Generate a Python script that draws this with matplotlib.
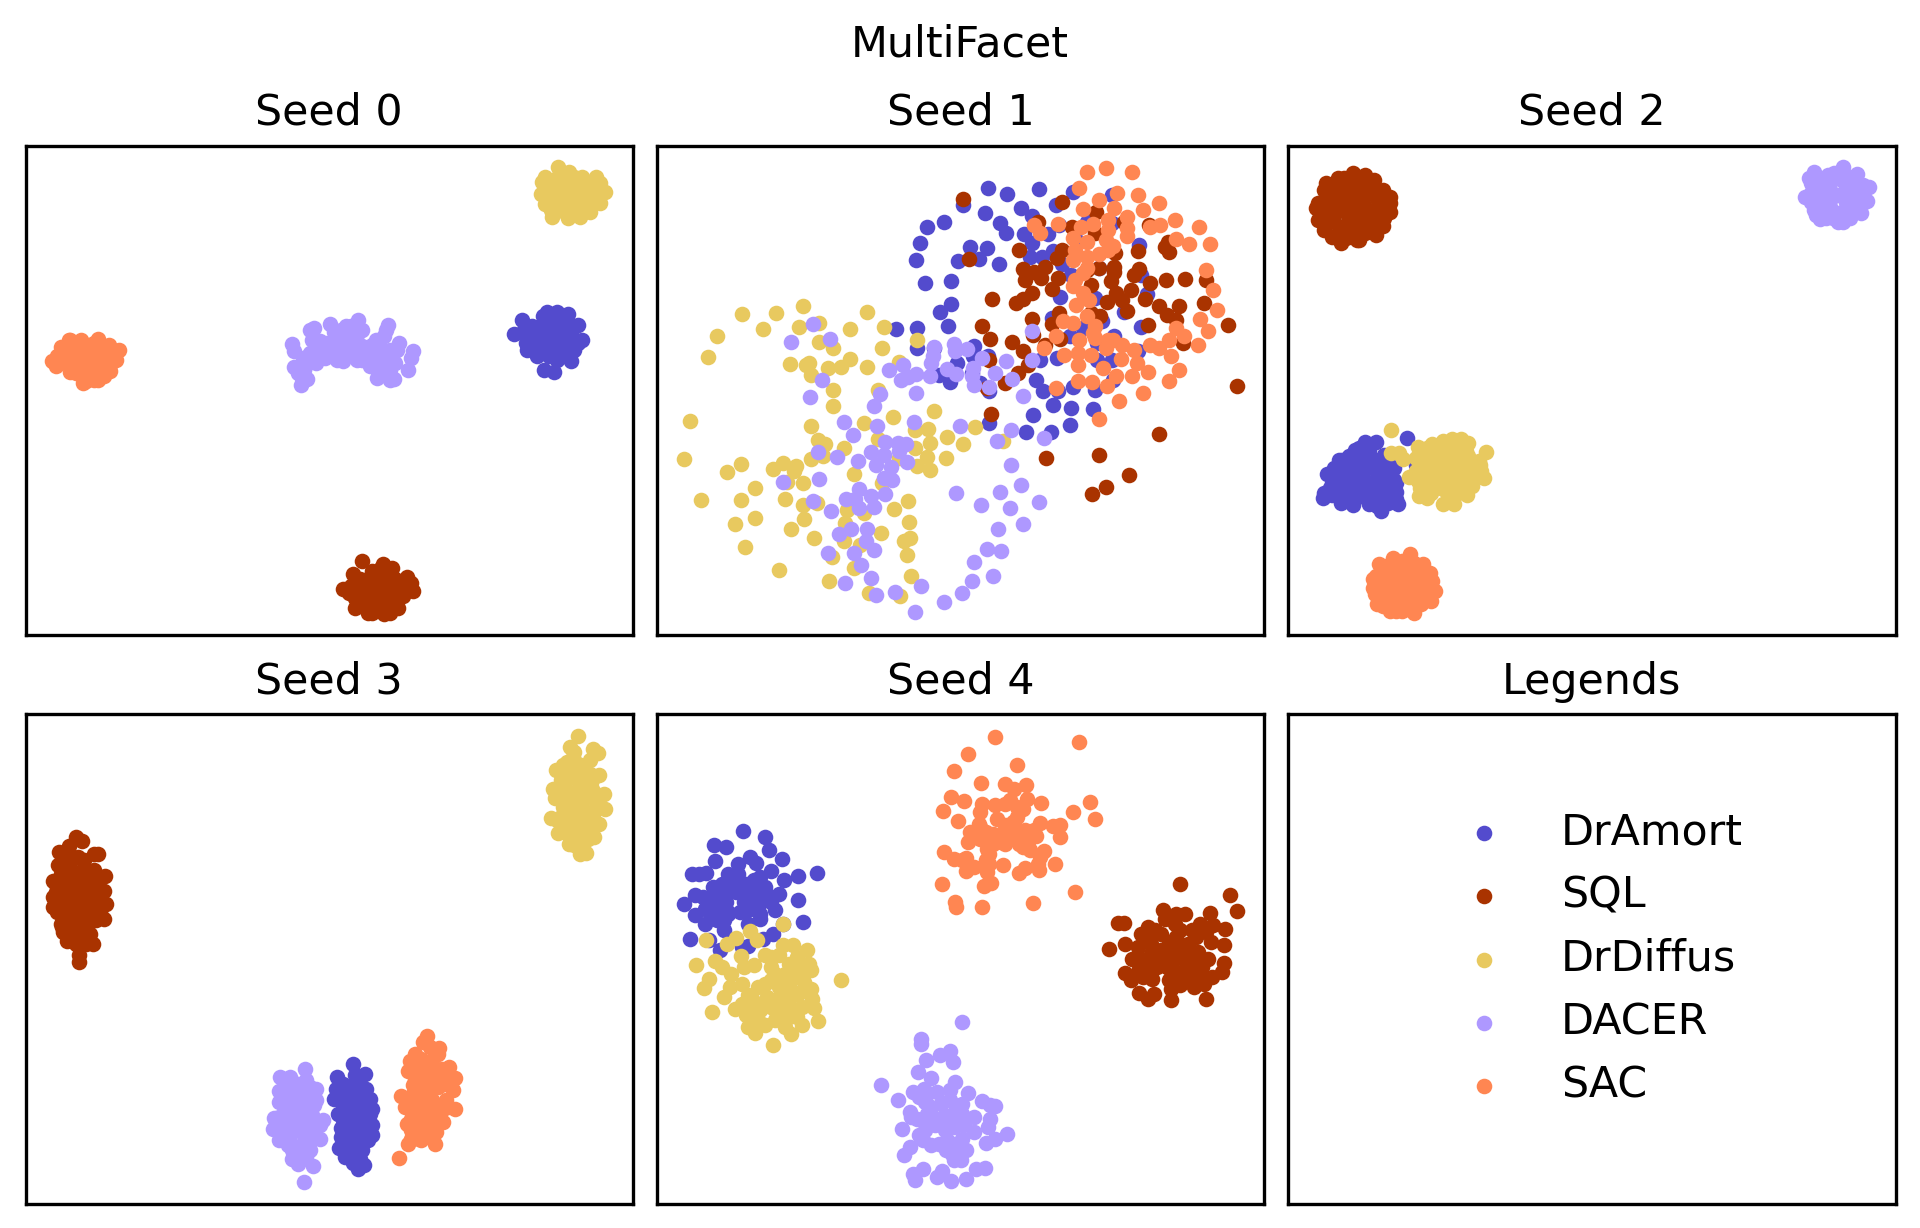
import numpy as np
import matplotlib
matplotlib.use("Agg")
import matplotlib.pyplot as plt

metodos = ["DrAmort", "SQL", "DrDiffus", "DACER", "SAC"]
cores = ["#534bcd", "#a93300", "#e8c95f", "#ae98ff", "#ff8652"]

# pontos, em unidades arbitrarias (y cresce para baixo)
seed0_dramort = [(1270,582),(1289,542),(1354,518),(1380,518),(1408,524),(1434,556),(1445,600),(1425,630),(1415,665),(1346,692),(1373,697),(1330,650),(1303,632),(1380,660),(1315,560),(1350,550),(1385,545),(1415,560),(1300,590),(1330,590),(1360,585),(1390,585),(1420,595),(1320,620),(1350,620),(1380,620),(1410,625),(1360,650),(1395,650),(1295,570),
    (1333,570),(1368,567),(1403,570),(1315,605),(1345,605),(1375,603),(1405,610),(1435,610),(1335,635),(1365,635),(1395,635),(1375,535),(1400,540),(1345,530),(1300,610)]
seed0_sql = [(880,1266),(932,1275),(957,1285),(995,1312),(1005,1330),(1010,1355),(855,1305),(830,1348),(860,1405),(895,1420),(952,1420),(972,1405),(985,1370),(905,1295),(935,1305),(965,1320),(875,1320),(850,1340),(880,1345),(910,1335),(940,1340),(970,1345),(860,1375),(890,1380),(920,1375),(950,1375),(920,1410),(880,1400),(945,1400),(990,1335),
    (865,1325),(895,1320),(925,1320),(955,1325),(985,1350),(865,1358),(895,1360),(925,1355),(955,1358),(845,1360),(875,1385),(905,1395),(935,1395),(965,1385),(905,1420),(935,1425),(890,1355),(925,1290),(950,1300)]
seed0_drdiffus = [(1383,82),(1412,95),(1350,110),(1342,125),(1340,163),(1350,192),(1368,230),(1408,235),(1440,232),(1465,215),(1490,190),(1503,157),(1480,112),(1490,130),(1445,110),(1380,115),(1410,125),(1370,145),(1405,155),(1440,140),(1470,150),(1375,185),(1410,190),(1445,180),(1475,180),(1400,215),(1430,210),(1350,160),(1460,125),(1385,210),
    (1395,110),(1425,110),(1365,125),(1395,140),(1425,145),(1455,160),(1485,165),(1355,145),(1385,160),(1425,170),(1355,175),(1390,175),(1460,195),(1385,195),(1425,195),(1365,210),(1415,215),(1445,215),(1455,145),(1480,140)]
seed0_dacer = [(700,612),(705,635),(735,652),(704,682),(745,570),(755,565),(715,700),(738,718),(722,737),(765,620),(790,640),(798,552),(808,578),(838,560),(868,542),(880,570),(815,600),(850,605),(815,640),(850,625),(815,662),(866,660),(895,640),(900,680),(920,615),(945,556),(935,590),(928,625),(940,650),(918,715),(950,720),(962,718),(950,690),(965,670),(975,610),(970,630),(997,692),(1010,635),(1005,655),(745,640),(730,690),(870,580),(905,660),(760,670),(790,610),(835,590),(925,670),
    (825,570),(850,560),(855,580),(800,620),(830,620),(865,610),(780,625),(760,645),(785,655),(830,650),(880,620),(905,640),(920,645),(950,630),(905,615),(880,660),(935,690),(920,690),(725,670),(740,670),(915,600),(830,665),(940,570),(770,605),(750,600),(725,715)]
seed0_sac = [(82,663),(93,680),(105,622),(125,602),(158,600),(202,597),(228,615),(256,632),(247,662),(232,695),(202,720),(163,730),(128,697),(175,615),(140,625),(110,650),(135,655),(165,650),(195,640),(225,640),(150,680),(180,680),(210,670),(235,670),(175,705),(205,695),(120,670),(130,600),(190,610),
    (120,625),(150,615),(205,615),(95,650),(125,640),(150,640),(180,630),(210,625),(240,650),(105,665),(135,675),(165,665),(195,660),(225,660),(145,700),(160,700),(195,680),(225,690),(170,725),(190,720),(215,710)]

seed1_dramort = [(857,145),(905,163),(988,148),(792,196),(848,220),(941,205),(970,228),(1030,195),(1075,157),(1175,165),(700,262),(744,247),(887,250),(903,280),(948,283),(1010,283),(1038,255),(682,310),(810,321),(855,325),(672,361),(779,364),(832,358),(885,373),(970,308),(965,350),(995,350),(1022,332),(1045,372),(1080,295),(1110,245),(1175,250),(1245,315),(1070,405),(1140,385),(1250,405),(694,430),(761,424),(1042,472),(1130,475),(1265,462),(761,492),(733,516),(1020,535),(1205,518),(1150,545),(754,558),(621,568),(675,564),(1250,562),(1068,590),(1100,565),(1180,590),(675,625),(718,625),(820,620),(1135,610),(1240,635),(777,670),(818,650),(856,650),(990,660),(1033,655),(1137,662),(1175,660),(730,705),(815,700),(760,728),(835,730),(980,720),(860,755),(997,753),(1035,755),(1075,742),(1130,752),(1178,722),(1023,795),(1070,805),(1127,807),(972,827),(860,850),(955,877),(1017,878),(1068,855)]
seed1_sql = [(792,178),(1045,187),(1133,217),(985,245),(1072,262),(1130,278),(1270,255),(1205,245),(808,358),(937,331),(1045,330),(1033,355),(1242,333),(1310,320),(1322,335),(1318,305),(1182,340),(1180,380),(947,387),(975,395),(1003,380),(993,415),(950,422),(1035,415),(1140,385),(1110,390),(1245,387),(1232,405),(1180,395),(1313,421),(1361,417),(1415,421),(1273,430),(1171,423),(1120,435),(1020,447),(1222,450),(970,460),(947,477),(929,490),(867,478),(1185,460),(1258,477),(1162,488),(1200,482),(1212,515),(1294,500),(1346,498),(1410,490),(1315,525),(1338,540),(1143,528),(1038,520),(1020,552),(970,537),(842,558),(1268,557),(1471,556),(1120,520),(862,598),(918,606),(973,585),(1042,597),(1003,615),(1356,610),(947,635),(860,660),(958,675),(933,700),(900,730),(855,745),(1495,739),(865,823),(1294,882),(1004,955),(1142,946),(1217,1006),(1160,1042),(1122,1063)]
seed1_drdiffus = [(225,523),(312,519),(381,499),(546,516),(422,549),(278,568),(371,562),(502,568),(590,562),(160,589),(423,607),(458,625),(584,625),(137,652),(675,601),(348,673),(398,670),(445,685),(480,683),(502,658),(546,682),(627,668),(403,706),(388,675),(458,751),(574,752),(458,799),(91,844),(613,832),(718,814),(402,860),(538,850),(668,870),(703,868),(824,862),(420,900),(437,912),(487,925),(575,897),(752,892),(792,913),(708,910),(895,905),(668,925),(75,958),(402,958),(432,948),(700,952),(749,955),(222,973),(330,970),(363,978),(304,989),(358,993),(186,997),(675,980),(707,991),(627,955),(513,1003),(340,1028),(381,1030),(258,1045),(585,1030),(222,1081),(335,1078),(119,1081),(418,1092),(381,1097),(651,1085),(615,1110),(495,1112),(537,1120),(384,1138),(258,1135),(207,1153),(653,1147),(490,1150),(351,1168),(582,1180),(410,1195),(487,1204),(657,1197),(640,1205),(234,1222),(527,1218),(649,1246),(457,1252),(320,1291),(513,1286),(659,1309),(449,1324),(550,1360),(630,1370)]
seed1_dacer = [(408,552),(451,598),(351,606),(717,622),(770,612),(772,634),(803,628),(968,574),(840,656),(903,663),(970,660),(602,691),(638,676),(715,650),(711,670),(650,712),(672,702),(633,721),(708,708),(750,688),(775,703),(817,685),(816,708),(875,700),(917,717),(430,721),(820,737),(860,742),(399,772),(579,764),(672,760),(947,768),(564,799),(487,847),(572,859),(667,847),(785,858),(916,871),(510,885),(1001,895),(880,905),(593,908),(625,910),(645,912),(421,937),(556,937),(627,933),(468,952),(523,964),(590,945),(648,967),(570,977),(607,983),(916,976),(423,1018),(330,1026),(590,1015),(610,1020),(942,1036),(524,1048),(775,1060),(888,1057),(592,1063),(555,1070),(491,1078),(515,1080),(988,1087),(407,1084),(525,1105),(565,1103),(839,1096),(914,1105),(453,1114),(947,1153),(505,1170),(546,1169),(883,1168),(473,1184),(543,1205),(565,1231),(854,1228),(890,1234),(446,1240),(513,1240),(821,1267),(531,1278),(556,1317),(870,1309),(814,1324),(489,1332),(684,1341),(618,1357),(790,1360),(569,1366),(744,1387),(669,1417)]
seed1_sac = [(1160,85),(1111,97),(1227,97),(1090,145),(1188,160),(1240,166),(1142,181),(1294,190),(1101,208),(1180,203),(1255,211),(1214,232),(1335,241),(975,255),(1036,253),(1127,252),(1163,240),(1096,260),(1214,265),(1272,262),(1297,256),(1399,262),(990,280),(1075,293),(1214,288),(1163,270),(1340,297),(1372,313),(1425,313),(1110,305),(1178,318),(1160,300),(1080,330),(1140,342),(1075,360),(1110,350),(1165,330),(1415,390),(1110,385),(1080,420),(1100,400),(1075,440),(1433,451),(1100,460),(1115,480),(1081,497),(1443,511),(1110,530),(1050,543),(1075,550),(1400,538),(1130,558),(1338,564),(1422,574),(1125,580),(1360,590),(1030,590),(1090,600),(1130,595),(1165,600),(1178,600),(1000,625),(1322,600),(1272,615),(1295,625),(1396,616),(1200,615),(1160,625),(1230,630),(1052,646),(1088,640),(1120,645),(1325,650),(1198,658),(1088,675),(1238,670),(1346,690),(1152,685),(1268,697),(1185,708),(1225,710),(1086,725),(1124,727),(1320,725),(1030,745),(1162,740),(1255,760),(1192,785),(1142,838)]

seed2_dramort = [(312,895),(205,908),(232,908),(178,930),(138,960),(125,985),(108,1002),(120,1030),(98,1077),(143,1090),(173,1097),(215,1095),(245,1115),(290,1093),(285,1058),(280,985),(255,945),(335,975),(195,960),(230,960),(165,975),(200,1000),(235,995),(265,1005),(150,1015),(180,1030),(215,1030),(250,1035),(285,1030),(130,1055),(165,1060),(200,1065),(235,1065),(265,1070),(120,1065),(280,1020),
    (190,925),(215,930),(165,950),(145,985),(180,950),(215,945),(245,975),(265,970),(185,985),(215,975),(130,1010),(165,1000),(235,1015),(200,1020),(165,1035),(145,1040),(115,1045),(180,1050),(215,1050),(250,1050),(275,1045),(145,1075),(180,1080),(215,1080),(250,1085),(100,1060),(265,1090),(235,1100),(285,1080),(145,960)]
seed2_sql = [(175,100),(205,105),(135,115),(228,120),(100,150),(250,150),(268,170),(270,190),(268,215),(80,205),(85,240),(100,270),(143,310),(185,300),(232,285),(250,258),(130,140),(165,130),(200,140),(130,175),(165,170),(200,175),(235,175),(110,205),(145,210),(180,210),(215,210),(245,215),(125,245),(160,245),(195,245),(225,250),(140,280),(170,280),(205,280),(115,175),(105,130),
    (150,115),(185,120),(210,125),(115,150),(150,150),(185,155),(220,155),(240,190),(95,185),(130,190),(165,190),(200,190),(100,220),(125,225),(160,225),(195,225),(230,230),(255,235),(105,250),(140,265),(175,265),(210,265),(120,290),(155,295),(190,300),(85,190),(225,140),(175,115)]
seed2_drdiffus = [(273,871),(272,940),(293,940),(302,958),(340,922),(378,912),(405,905),(428,898),(452,898),(470,910),(515,936),(497,965),(503,995),(510,1015),(480,1040),(468,1065),(433,1095),(405,1095),(365,1075),(343,1068),(318,1012),(350,940),(385,940),(420,930),(455,935),(350,975),(385,975),(420,970),(455,965),(485,985),(345,1010),(380,1010),(415,1005),(450,1005),(485,1015),(365,1040),(400,1045),(435,1045),(460,1040),(345,1045),(420,1075),
    (365,925),(400,925),(435,915),(465,935),(335,955),(365,955),(400,955),(435,950),(470,950),(500,975),(335,995),(365,995),(400,990),(435,985),(470,1000),(500,1005),(360,1025),(395,1025),(430,1025),(465,1025),(340,1025),(375,1060),(415,1060),(445,1060),(450,915)]
seed2_dacer = [(1433,82),(1468,102),(1358,97),(1395,105),(1500,142),(1495,182),(1480,218),(1433,245),(1374,238),(1336,170),(1358,210),(1408,235),(1350,130),(1390,135),(1430,120),(1465,135),(1380,170),(1420,165),(1460,170),(1365,195),(1400,200),(1440,205),(1470,195),(1410,100),(1350,160),(1450,235),
    (1370,115),(1405,120),(1445,110),(1485,135),(1370,150),(1400,150),(1440,145),(1480,165),(1350,185),(1400,180),(1440,185),(1480,195),(1380,215),(1420,220),(1460,215),(1390,235),(1420,245),(1365,225),(1455,150),(1345,115)]
seed2_sac = [(320,1245),(278,1255),(240,1275),(355,1275),(372,1300),(378,1325),(385,1355),(375,1385),(330,1420),(300,1415),(270,1415),(236,1395),(225,1345),(232,1310),(275,1295),(310,1290),(340,1300),(260,1330),(295,1330),(330,1335),(360,1340),(250,1365),(285,1365),(320,1370),(350,1375),(290,1395),(325,1395),(230,1330),(350,1395),
    (300,1265),(330,1270),(260,1280),(290,1310),(325,1315),(355,1320),(245,1315),(270,1345),(310,1350),(340,1355),(370,1360),(240,1375),(270,1390),(305,1390),(340,1385),(365,1365),(250,1400),(285,1415),(315,1410),(245,1345),(225,1320),(230,1365),(305,1270)]

seed3_dramort = [(857,1060),(887,1092),(815,1100),(860,1095),(812,1135),(890,1135),(808,1167),(900,1165),(905,1195),(818,1212),(895,1230),(825,1252),(898,1265),(820,1312),(880,1320),(855,1358),(883,1363),(868,1375),(850,1130),(850,1170),(860,1210),(860,1250),(860,1290),(825,1280),(895,1290),(855,1330),(875,1345),
    (830,1120),(870,1125),(835,1150),(880,1155),(830,1185),(875,1190),(845,1205),(890,1210),(840,1235),(880,1240),(845,1265),(880,1270),(840,1300),(875,1300),(895,1250),(840,1320),(860,1345),(905,1245),(830,1230),(905,1275),(895,1180),(825,1170),(870,1110),(835,1340),(865,1145),(870,1360),(900,1210)]
seed3_sql = [(143,380),(160,392),(100,424),(125,408),(200,430),(190,430),(98,465),(150,440),(218,497),(85,513),(92,545),(217,542),(222,580),(85,590),(215,625),(108,650),(120,692),(188,701),(153,735),(153,755),(180,670),(150,690),(130,470),(165,475),(190,480),(120,510),(155,510),(195,515),(110,550),(145,550),(185,550),(110,585),(150,590),(190,585),(115,620),(155,625),(195,630),(105,640),(165,655),(140,675),(120,655),
    (110,450),(130,445),(165,450),(105,490),(135,490),(175,495),(205,500),(95,530),(130,530),(165,530),(200,530),(95,565),(130,570),(165,570),(205,565),(95,605),(130,605),(170,605),(205,605),(135,640),(175,640),(145,700),(125,690),(170,700),(110,665),(180,620),(85,560)]
seed3_drdiffus = [(1435,78),(1413,110),(1425,125),(1473,116),(1485,127),(1465,150),(1405,155),(1378,180),(1435,160),(1487,193),(1370,235),(1375,263),(1500,252),(1503,295),(1365,322),(1488,340),(1383,368),(1475,380),(1410,400),(1440,430),(1455,428),(1420,195),(1455,200),(1400,230),(1440,230),(1470,235),(1410,270),(1445,270),(1480,275),(1395,310),(1430,305),(1465,310),(1420,345),(1455,345),(1410,375),(1445,375),(1425,405),(1450,395),
    (1400,175),(1440,180),(1465,190),(1390,210),(1435,210),(1470,210),(1385,250),(1420,250),(1460,250),(1485,255),(1395,290),(1445,290),(1480,295),(1380,330),(1445,325),(1475,330),(1400,355),(1440,360),(1465,360),(1430,390),(1460,385),(1420,140),(1395,165),(1450,170),(1410,330)]
seed3_dacer = [(732,1076),(668,1100),(695,1100),(735,1110),(760,1135),(665,1142),(665,1175),(755,1185),(652,1222),(778,1230),(650,1256),(770,1245),(667,1290),(770,1285),(700,1320),(745,1320),(702,1347),(715,1360),(752,1366),(729,1414),(700,1135),(730,1150),(695,1175),(725,1190),(685,1215),(720,1225),(750,1215),(680,1260),(715,1260),(745,1260),(695,1295),(730,1295),(720,1335),
    (680,1115),(715,1120),(745,1130),(680,1155),(715,1165),(745,1165),(680,1195),(705,1205),(745,1200),(665,1220),(700,1240),(735,1240),(760,1240),(665,1255),(695,1275),(730,1275),(755,1280),(680,1285),(710,1310),(735,1340),(720,1350),(690,1305),(760,1170),(700,1345)]
seed3_sac = [(1047,978),(1035,995),(1078,1012),(1075,1030),(1015,1030),(1002,1052),(998,1082),(1103,1070),(1117,1102),(1112,1140),(1010,1125),(980,1157),(1117,1195),(990,1190),(1088,1235),(995,1240),(1070,1265),(998,1300),(1025,1285),(1066,1302),(973,1342),(1040,1060),(1040,1100),(1070,1090),(1040,1140),(1075,1130),(1020,1170),(1060,1170),(1095,1170),(1020,1210),(1055,1210),(1085,1200),(1020,1250),(1050,1250),(1010,1270),(1045,1275),
    (1055,1010),(1030,1045),(1060,1050),(1015,1080),(1055,1080),(1085,1075),(1015,1110),(1055,1115),(1095,1110),(1010,1150),(1050,1150),(1000,1175),(1040,1190),(1075,1185),(1010,1195),(1035,1230),(1070,1225),(1005,1225),(1005,1260),(1035,1265),(1065,1240),(1005,1285),(1090,1120),(1030,1290),(1100,1190)]

seed4_dramort = [(228,363),(284,380),(153,403),(184,411),(295,419),(156,453),(327,445),(245,440),(262,458),(215,462),(97,490),(115,492),(133,488),(190,490),(300,483),(270,500),(418,487),(369,498),(333,510),(105,553),(150,530),(75,580),(200,510),(235,520),(285,530),(320,550),(370,570),(125,560),(170,560),(210,545),(250,555),(290,555),(130,595),(165,590),(220,605),(265,590),(310,600),(105,615),(130,640),(180,630),(270,625),(382,636),(330,640),(180,660),(240,640),(91,687),(140,690),(305,670),(280,685),(168,720),(225,710),(240,708),
    (190,535),(230,540),(265,545),(145,570),(185,575),(230,575),(275,570),(300,575),(145,610),(190,610),(240,600),(175,520),(215,490),(255,510),(190,605),(270,610),(160,630),(210,530)]
seed4_sql = [(1348,520),(1477,553),(1495,601),(1305,600),(1310,625),(1363,610),(1425,607),(1190,637),(1205,637),(1433,645),(1465,655),(1268,650),(1335,640),(1400,640),(1207,700),(1168,717),(1250,670),(1300,670),(1350,660),(1390,680),(1428,695),(1462,703),(1240,710),(1300,720),(1350,710),(1395,725),(1225,745),(1265,750),(1330,750),(1370,745),(1420,745),(1462,757),(1207,787),(1245,775),(1290,770),(1340,785),(1385,790),(1458,785),(1222,810),(1278,805),(1325,800),(1365,810),(1430,800),(1245,848),(1282,850),(1268,865),(1325,835),(1385,830),(1410,820),(1325,868),(1415,865),(1350,825),
    (1275,700),(1320,695),(1370,700),(1330,720),(1275,730),(1245,745),(1300,745),(1345,735),(1395,750),(1270,775),(1315,770),(1365,770),(1405,770),(1320,810),(1350,790),(1260,690),(1340,680),(1375,720),(1240,750),(1285,660),(1340,610),(1255,800),(1410,800),(1380,660),(1415,665)]
seed4_drdiffus = [(330,640),(132,690),(245,662),(263,688),(210,684),(187,700),(106,763),(155,752),(175,770),(196,790),(140,805),(127,832),(222,738),(255,765),(230,770),(285,735),(330,705),(355,705),(392,720),(365,740),(398,760),(402,780),(480,808),(300,770),(360,780),(225,820),(195,830),(300,810),(340,810),(385,815),(402,835),(178,860),(250,865),(290,860),(330,850),(370,850),(405,865),(410,892),(148,905),(208,895),(250,900),(300,890),(350,895),(380,890),(240,950),(258,968),(285,945),(310,930),(345,920),(378,945),(421,932),(352,972),(304,1003),(265,930),(335,950),
    (300,740),(320,735),(345,760),(310,790),(335,790),(365,800),(380,790),(265,830),(320,830),(350,840),(225,880),(270,880),(310,870),(345,870),(235,915),(270,900),(325,900),(365,920),(285,820),(240,855),(310,900),(390,840),(380,775)]
seed4_dacer = [(790,936),(684,985),(684,1002),(760,1022),(733,1035),(697,1050),(766,1055),(677,1085),(710,1102),(582,1123),(772,1115),(665,1145),(692,1135),(725,1145),(760,1140),(805,1148),(625,1170),(840,1173),(862,1185),(875,1187),(695,1175),(735,1180),(790,1180),(655,1205),(700,1210),(745,1215),(790,1210),(820,1220),(862,1225),(857,1250),(635,1255),(720,1245),(770,1250),(820,1265),(906,1270),(680,1275),(710,1305),(750,1290),(790,1285),(850,1297),(873,1285),(657,1310),(642,1335),(748,1320),(800,1320),(770,1348),(787,1348),(690,1375),(664,1392),(668,1408),(737,1383),(725,1400),(762,1413),(800,1405),(825,1375),(848,1372),
    (680,1160),(710,1190),(760,1170),(775,1190),(675,1225),(695,1230),(725,1225),(770,1225),(695,1260),(745,1260),(795,1245),(690,1290),(730,1300),(770,1300),(765,1330),(750,1300),(660,1220),(700,1150),(790,1230),(755,1240)]
seed4_sac = [(875,79),(1091,94),(805,130),(932,163),(770,181),(839,217),(900,222),(922,235),(953,225),(762,260),(795,272),(840,280),(873,285),(912,270),(957,265),(993,277),(945,295),(741,301),(835,305),(1117,274),(1075,304),(1132,325),(880,325),(780,332),(833,340),(920,335),(990,337),(1022,347),(1042,345),(1042,380),(850,365),(810,365),(900,360),(950,360),(980,378),(805,395),(845,390),(890,395),(935,400),(965,420),(743,424),(1000,422),(770,445),(800,442),(860,430),(990,440),(820,470),(1028,460),(858,460),(895,465),(950,473),(935,488),(988,480),(800,482),(855,485),(865,517),(847,527),(738,520),(1080,544),(772,576),(775,590),(842,589),(973,577),
    (900,280),(930,290),(930,320),(900,345),(870,370),(835,385),(870,400),(920,380),(930,380),(960,395),(900,400),(945,410),(855,415),(925,355),(895,375),(835,350),(850,450),(790,450),(985,460),(975,360)]

seeds = [
    [seed0_dramort, seed0_sql, seed0_drdiffus, seed0_dacer, seed0_sac],
    [seed1_dramort, seed1_sql, seed1_drdiffus, seed1_dacer, seed1_sac],
    [seed2_dramort, seed2_sql, seed2_drdiffus, seed2_dacer, seed2_sac],
    [seed3_dramort, seed3_sql, seed3_drdiffus, seed3_dacer, seed3_sac],
    [seed4_dramort, seed4_sql, seed4_drdiffus, seed4_dacer, seed4_sac],
]
limitesX = [(15, 1575), (7, 1565), (8, 1568), (15, 1575), (7, 1565)]
limitesY = [(1487, 17), (1487, 17), (1487, 17), (1480, 12), (1480, 12)]

tamanhoFonte = 10.25
tamanhoPonto = 14

fig, eixos = plt.subplots(2, 3, figsize=(6.4, 1228 / 300), dpi=300)
plt.subplots_adjust(left=25.7 / 1920, right=1895.5 / 1920,
                    top=1 - 145.7 / 1228, bottom=1 - 1203.6 / 1228,
                    wspace=24.2 / 607.3, hspace=79.5 / 490)
fig.suptitle("MultiFacet", fontsize=tamanhoFonte, y=0.9635, va="center")
eixos = eixos.flatten()

for i, pontosSeed in enumerate(seeds):
    ax = eixos[i]
    for pontos, metodo, cor in zip(pontosSeed, metodos, cores):
        x, y = np.array(pontos).T
        ax.scatter(x, y, s=tamanhoPonto, color=cor, linewidths=0, label=metodo)
    ax.set_xlim(limitesX[i])
    ax.set_ylim(limitesY[i])
    ax.set_xticks([])
    ax.set_yticks([])
    ax.set_title(f"Seed {i}", fontsize=tamanhoFonte, pad=5)

# painel das legendas
axLegenda = eixos[5]
for metodo, cor in zip(metodos, cores):
    axLegenda.scatter([], [], s=tamanhoPonto, color=cor, linewidths=0, label=metodo)
axLegenda.set_xticks([])
axLegenda.set_yticks([])
axLegenda.set_title("Legends", fontsize=tamanhoFonte, pad=5)
axLegenda.legend(loc="center", frameon=False, fontsize=tamanhoFonte)

plt.savefig("out.png", dpi=300)
